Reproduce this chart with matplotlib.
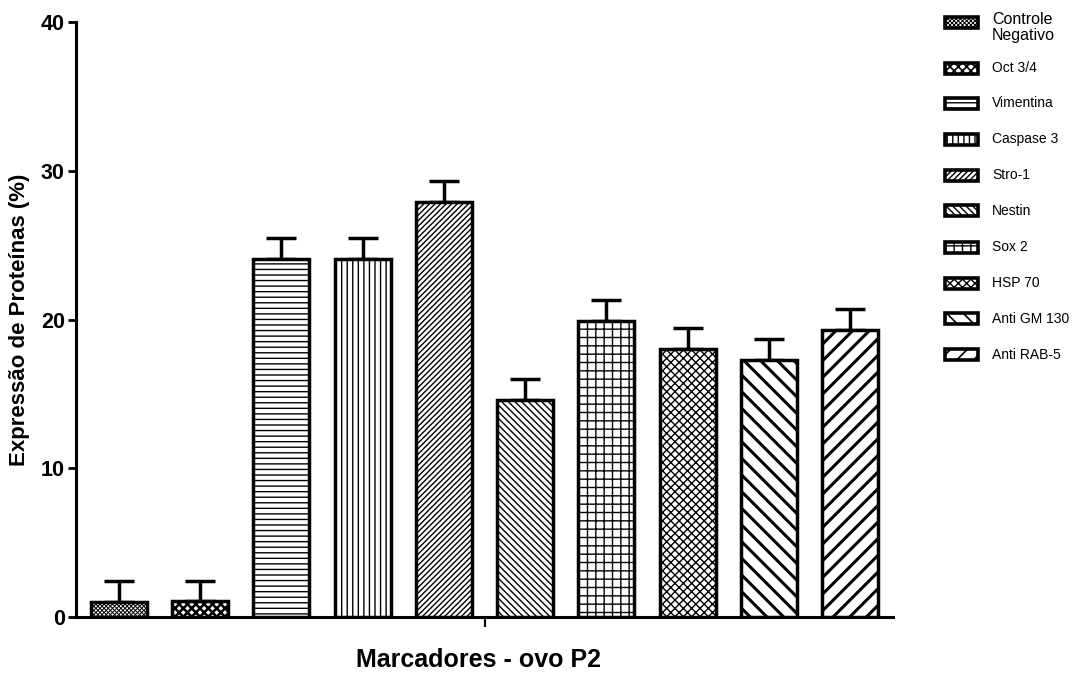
import matplotlib.pyplot as plt
from matplotlib.patches import Rectangle

# data
markers = ['Controle\nNegativo', 'Oct 3/4', 'Vimentina', 'Caspase 3', 'Stro-1',
           'Nestin', 'Sox 2', 'HSP 70', 'Anti GM 130', 'Anti RAB-5']
expression = [1.0, 1.1, 24.1, 24.1, 27.9, 14.6, 19.9, 18.0, 17.3, 19.3]
sem = [1.4, 1.3, 1.4, 1.4, 1.4, 1.4, 1.4, 1.4, 1.4, 1.4]
y_ticks = [0, 10, 20, 30, 40]

# hatch style per bar: (pattern, hatch line width)
hatches = [('xxxxxxxx', 0.7), ('xxxx', 1.8), ('---', 1.0), ('|||', 1.0), ('//////', 1.0),
           ('\\\\\\\\\\', 1.0), ('++', 1.0), ('xxxx', 1.0), ('\\\\', 2.2), ('//', 2.2)]

plt.rcParams['font.family'] = ['Liberation Sans', 'DejaVu Sans']

fig = plt.figure(figsize=(10.9, 6.9), dpi=100)
ax = fig.add_axes([76 / 1090, 1 - 617 / 690, (893 - 76) / 1090, (617 - 22) / 690])

pos = list(range(len(expression)))
for i, (h, hlw) in enumerate(hatches):
    plt.rcParams['hatch.linewidth'] = hlw
    ax.bar(pos[i], expression[i], width=0.69, color='white', edgecolor='black',
           linewidth=2.5, hatch=h, zorder=3)

ax.errorbar(pos, expression, yerr=[[0] * len(sem), sem], fmt='none', ecolor='black',
            elinewidth=2.5, capsize=10.5, capthick=2.5, zorder=2)

ax.set_xlim(-0.53, len(pos) - 0.47)
ax.set_ylim(0, 40)
ax.set_yticks(y_ticks)
ax.set_xticks([(len(pos) - 1) / 2])
ax.set_xticklabels([''])
for lab in ax.get_yticklabels():
    lab.set_fontweight('bold')
ax.tick_params(axis='y', labelsize=15.5, length=6, width=2, pad=2)
ax.tick_params(axis='x', length=7, width=1.5)
for s in ['top', 'right']:
    ax.spines[s].set_visible(False)
for s in ['left', 'bottom']:
    ax.spines[s].set_linewidth(2.2)

fig.text(20 / 1090, 1 - 320 / 690, 'Expressão de Proteínas (%)', rotation=90,
         ha='center', va='center', fontsize=16, fontweight='bold')
fig.text(478 / 1090, 1 - 660 / 690, 'Marcadores - ovo P2', ha='center', va='center',
         fontsize=18, fontweight='bold')

# legend drawn by hand on the right
rows = [22, 68, 103, 139, 175, 211, 247, 283, 319, 355]
for i, name in enumerate(markers):
    h, hlw = hatches[i]
    plt.rcParams['hatch.linewidth'] = min(hlw, 1.2)
    y = 1 - rows[i] / 690
    fig.add_artist(Rectangle((945 / 1090, y - 5.5 / 690), 33 / 1090, 11 / 690,
                             transform=fig.transFigure, facecolor='white',
                             edgecolor='black', linewidth=2.6, hatch=h))
    if i == 0:
        fig.text(992 / 1090, 1 - 12 / 690, name, ha='left', va='top', fontsize=11.5,
                 linespacing=1.1)
    else:
        fig.text(992 / 1090, y, name, ha='left', va='center', fontsize=10)

fig.savefig('out.png', dpi=100)
